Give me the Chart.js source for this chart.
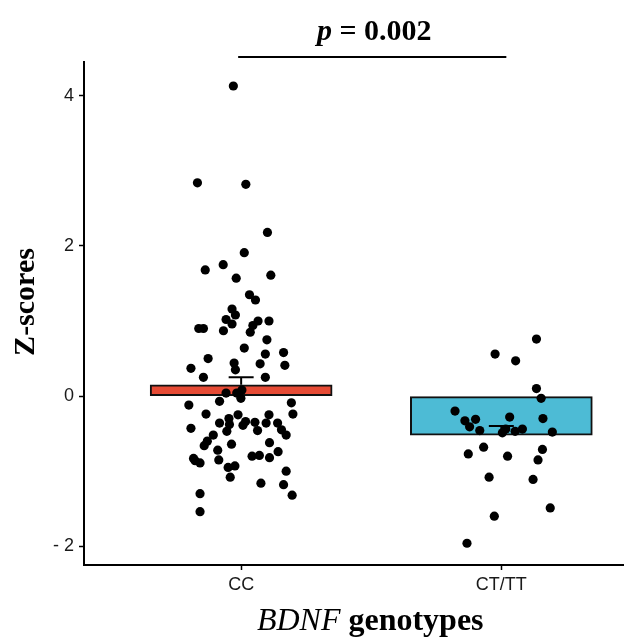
<!DOCTYPE html>
<html>
<head>
<meta charset="utf-8">
<script src="https://cdn.jsdelivr.net/npm/chart.js@4"></script>
<style>
  html, body { margin: 0; padding: 0; background: #fff; overflow: hidden; }
  #wrap { width: 624px; height: 644px; overflow: hidden; }
</style>
</head>
<body>
<div id="wrap"><canvas id="chart" width="629" height="644"></canvas></div>
<script>
'use strict';

var categories = ['CC', 'CT/TT'];
var barMeans = [0.15, -0.52];
var barSE = [0.10, 0.12];
var yTicks = [-2, 0, 2, 4];
var pValue = '0.002';

// CC group: jittered x position, z-score
var ccX = [0.970, 0.832, 1.018, 1.101, 1.012, 0.862, 0.931, 0.981, 1.114, 1.032, 1.055,
    0.965, 0.978, 0.942, 0.965, 0.837, 0.855, 0.932, 1.065, 1.045, 1.107, 1.035, 1.099,
    1.012, 1.093, 1.163, 0.873, 0.807, 0.973, 0.978, 1.073, 1.168, 0.855, 1.093,
    0.942, 0.983, 1.003, 0.999, 0.917, 0.799, 1.193, 1.199, 0.865, 0.988, 1.107, 0.953,
    0.917, 0.955, 1.017, 1.053, 1.096, 1.140, 0.807, 0.945, 1.007, 1.063, 1.155, 1.173,
    0.893, 0.870, 0.858, 0.963, 1.109, 0.910, 1.142,
    0.817, 0.823, 0.842, 0.914, 1.042, 1.070, 1.109, 0.950, 0.976, 0.958, 1.173, 1.076,
    1.163, 1.196, 0.842, 0.842];
var ccZ = [4.13, 2.84, 2.82, 2.18, 1.91, 1.68, 1.75, 1.57, 1.61, 1.35, 1.28,
    1.16, 1.08, 1.02, 0.96, 0.90, 0.90, 0.87, 1.00, 0.94, 1.00, 0.85, 0.75,
    0.64, 0.56, 0.58, 0.50, 0.37, 0.44, 0.35, 0.43, 0.41, 0.25, 0.25,
    0.04, 0.04, 0.08, -0.03, -0.07, -0.12, -0.09, -0.24, -0.24, -0.25, -0.25, -0.30,
    -0.36, -0.38, -0.34, -0.35, -0.36, -0.36, -0.43, -0.47, -0.39, -0.46, -0.45, -0.52,
    -0.52, -0.60, -0.66, -0.64, -0.62, -0.72, -0.74,
    -0.83, -0.86, -0.89, -0.85, -0.80, -0.79, -0.82, -0.95, -0.93, -1.08, -1.00, -1.16,
    -1.18, -1.32, -1.30, -1.54];

// CT/TT group
var ctX = [2.135, 1.976, 2.055, 2.135, 2.153, 1.822, 1.860, 1.901, 1.878, 1.917, 2.032,
    2.160, 2.004, 2.017, 2.053, 2.081, 2.196,
    1.932, 1.873, 2.024, 2.158, 2.141, 1.953, 2.122, 2.188, 1.973, 1.868];
var ctZ = [0.76, 0.56, 0.47, 0.10, -0.03, -0.20, -0.33, -0.31, -0.41, -0.46, -0.28,
    -0.30, -0.49, -0.44, -0.47, -0.44, -0.48,
    -0.68, -0.77, -0.80, -0.71, -0.85, -1.08, -1.11, -1.49, -1.60, -1.96];

function toPoints(xs, ys) {
    return xs.map(function(x, i) { return { x: x, y: ys[i] }; });
}

// error bar: from mean up to mean + se, with a cap
function errorBar(i) {
    var pos = i + 1;
    var top = barMeans[i] + barSE[i];
    return [
        { x: pos, y: barMeans[i] },
        { x: pos, y: top },
        { x: pos - 0.048, y: top },
        { x: pos + 0.048, y: top }
    ];
}

var annotations = {
    id: 'annotations',
    afterDraw: function(chart) {
        var ctx = chart.ctx;
        var xs = chart.scales.x;
        var x1 = xs.getPixelForValue(1) - 3;
        var x2 = xs.getPixelForValue(2) + 5;
        var cx = (x1 + x2) / 2;

        ctx.save();
        ctx.strokeStyle = '#000';
        ctx.lineWidth = 2;
        ctx.beginPath();
        ctx.moveTo(x1, 57);
        ctx.lineTo(x2, 57);
        ctx.stroke();

        ctx.fillStyle = '#000';
        ctx.textBaseline = 'alphabetic';
        ctx.textAlign = 'left';

        // p value label
        var fp = 'italic bold 30px "Liberation Serif"';
        var fr = 'bold 30px "Liberation Serif"';
        var rest = ' = ' + pValue;
        ctx.font = fp;
        var w1 = ctx.measureText('p').width;
        ctx.font = fr;
        var w2 = ctx.measureText(rest).width;
        var sx = cx + 2 - (w1 + w2) / 2;
        ctx.font = fp;
        ctx.fillText('p', sx, 40);
        ctx.font = fr;
        ctx.fillText(rest, sx + w1, 40);

        // x title
        var ft = 'italic 32px "Liberation Serif"';
        var fg = 'bold 32px "Liberation Serif"';
        var g = ' genotypes';
        ctx.font = ft;
        var t1 = ctx.measureText('BDNF').width;
        ctx.font = fg;
        var t2 = ctx.measureText(g).width;
        var tx = cx - 2 - (t1 + t2) / 2;
        ctx.font = ft;
        ctx.fillText('BDNF', tx, 630);
        ctx.font = fg;
        ctx.fillText(g, tx + t1, 630);

        // y title
        ctx.translate(26, 302);
        ctx.rotate(-Math.PI / 2);
        ctx.textAlign = 'center';
        ctx.textBaseline = 'middle';
        ctx.font = 'bold 30px "Liberation Serif"';
        ctx.fillText('Z-scores', 0, 0);
        ctx.restore();
    }
};

var ctx = document.getElementById('chart').getContext('2d');

new Chart(ctx, {
    type: 'bar',
    data: {
        datasets: [
            {
                type: 'scatter',
                label: categories[0],
                data: toPoints(ccX, ccZ),
                pointRadius: 4.6,
                pointBackgroundColor: '#000',
                pointBorderWidth: 0,
                order: 0
            },
            {
                type: 'scatter',
                label: categories[1],
                data: toPoints(ctX, ctZ),
                pointRadius: 4.6,
                pointBackgroundColor: '#000',
                pointBorderWidth: 0,
                order: 0
            },
            {
                type: 'line',
                data: errorBar(0).slice(0, 2),
                borderColor: '#000',
                borderWidth: 2,
                pointRadius: 0,
                order: 1
            },
            {
                type: 'line',
                data: errorBar(0).slice(2),
                borderColor: '#000',
                borderWidth: 2,
                pointRadius: 0,
                order: 1
            },
            {
                type: 'line',
                data: errorBar(1).slice(0, 2),
                borderColor: '#000',
                borderWidth: 2,
                pointRadius: 0,
                order: 1
            },
            {
                type: 'line',
                data: errorBar(1).slice(2),
                borderColor: '#000',
                borderWidth: 2,
                pointRadius: 0,
                order: 1
            },
            {
                type: 'bar',
                data: barMeans.map(function(m, i) { return { x: i + 1, y: m }; }),
                backgroundColor: ['#E64B35', '#4DBBD5'],
                borderColor: '#111',
                borderWidth: 2,
                borderSkipped: false,
                barThickness: 182,
                order: 2
            }
        ]
    },
    plugins: [annotations],
    options: {
        responsive: false,
        animation: false,
        layout: { padding: { top: 62, left: 0, right: 0, bottom: 0 } },
        plugins: {
            legend: { display: false },
            tooltip: { enabled: false }
        },
        scales: {
            x: {
                type: 'linear',
                min: 0.396,
                max: 2.473,
                offset: false,
                afterFit: function(scale) { scale.height = 79; },
                afterBuildTicks: function(scale) {
                    scale.ticks = categories.map(function(c, i) { return { value: i + 1 }; });
                },
                ticks: {
                    callback: function(v) { return categories[v - 1]; },
                    color: '#1a1a1a',
                    font: { family: 'Liberation Sans', size: 18 },
                    padding: 4,
                    maxRotation: 0
                },
                grid: {
                    offset: false,
                    drawOnChartArea: false,
                    drawTicks: true,
                    tickLength: 5,
                    tickColor: '#000',
                    tickWidth: 1.5
                },
                border: { display: true, color: '#000', width: 2 }
            },
            y: {
                min: -2.25,
                max: 4.45,
                afterFit: function(scale) { scale.width = 84; },
                afterBuildTicks: function(scale) {
                    scale.ticks = yTicks.map(function(v) { return { value: v }; });
                },
                ticks: {
                    callback: function(v) { return v < 0 ? '- ' + Math.abs(v) : String(v); },
                    color: '#1a1a1a',
                    font: { family: 'Liberation Sans', size: 18 },
                    padding: 5
                },
                grid: {
                    drawOnChartArea: false,
                    drawTicks: true,
                    tickLength: 5,
                    tickColor: '#000',
                    tickWidth: 1.5
                },
                border: { display: true, color: '#000', width: 2 }
            }
        }
    }
});
</script>
</body>
</html>
